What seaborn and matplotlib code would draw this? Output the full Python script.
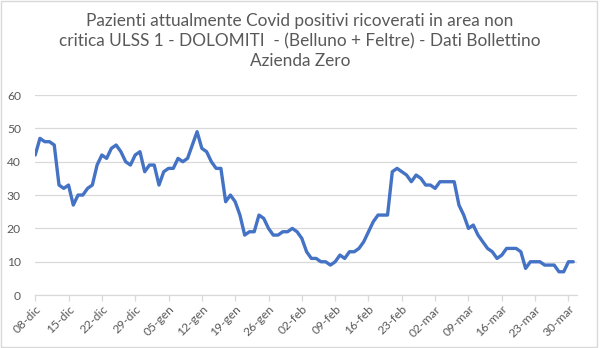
import matplotlib
matplotlib.use("Agg")
import matplotlib.pyplot as plt
import seaborn as sns
import pandas as pd
import numpy as np
from matplotlib.patches import Rectangle

# ---- data ----
start_date = "2020-12-08"
values = [42, 47, 46, 46, 45, 33, 32, 33, 27, 30, 30, 32, 33, 39, 42, 41, 44, 45, 43, 40,
          39, 42, 43, 37, 39, 39, 33, 37, 38, 38, 41, 40, 41, 45, 49,
          44, 43, 40, 38, 38, 28, 30,
          28, 24, 18, 19, 19, 24, 23, 20, 18, 18, 19, 19, 20, 19, 17, 13, 11, 11, 10, 10, 9,
          10, 12, 11, 13, 13, 14, 16, 19, 22, 24, 24, 24,
          37, 38, 37, 36, 34, 36, 35, 33, 33, 32,
          34, 34, 34, 34, 27, 24, 20, 21, 18, 16, 14, 13, 11, 12, 14, 14, 14, 13,
          8, 10, 10, 10, 9, 9, 9, 7, 7, 10, 10]
tick_labels = ["08-dic", "15-dic", "22-dic", "29-dic", "05-gen", "12-gen", "19-gen",
               "26-gen", "02-feb", "09-feb", "16-feb", "23-feb", "02-mar", "09-mar",
               "16-mar", "23-mar", "30-mar"]
y_ticks = [0, 10, 20, 30, 40, 50, 60]
title = ("Pazienti attualmente Covid positivi ricoverati in area non\n"
         "critica ULSS 1 - DOLOMITI  - (Belluno + Feltre) - Dati Bollettino\n"
         "Azienda Zero")

dates = pd.date_range(start_date, periods=len(values), freq="D")
df = pd.DataFrame({"data": dates, "pazienti": values})

sns.set_theme(style="white")
plt.rcParams["font.family"] = ["Lato", "DejaVu Sans"]

grey_text = "#595959"
fig = plt.figure(figsize=(6.0, 3.48), dpi=100)
ax = fig.add_axes([0.058, 0.152, 0.904, 0.575])

sns.lineplot(data=df, x="data", y="pazienti", ax=ax, color="#4472C4", linewidth=2.4)

tick_dates = pd.date_range(start_date, periods=len(tick_labels), freq="7D")
ax.set_xticks(tick_dates)
ax.set_xticklabels(tick_labels, rotation=45, ha="right", rotation_mode="anchor",
                   fontsize=8.7, color=grey_text)
ax.set_xlim(dates[0] - pd.Timedelta(hours=2), dates[-1] + pd.Timedelta(hours=20))
ax.set_ylim(0, 60)
ax.set_yticks(y_ticks)
ax.set_yticklabels([str(v) for v in y_ticks], fontsize=8.7, color=grey_text)
ax.set_xlabel("")
ax.set_ylabel("")

ax.grid(axis="y", color="#D9D9D9", linewidth=0.9)
ax.grid(axis="x", visible=False)
for side in ["top", "right", "left"]:
    ax.spines[side].set_visible(False)
ax.spines["bottom"].set_color("#D9D9D9")
ax.spines["bottom"].set_linewidth(0.9)
ax.tick_params(axis="x", which="major", direction="out", length=4, width=0.9,
               color="#D9D9D9", pad=2, bottom=True)
ax.tick_params(axis="y", length=0, pad=10)
ax.set_axisbelow(True)

fig.text(0.5, 0.962, title, ha="center", va="top", fontsize=12.4, color=grey_text,
         linespacing=1.3)

fig.patches.append(Rectangle((0.0015, 0.002), 0.993, 0.995, transform=fig.transFigure,
                             fill=False, edgecolor="#D9D9D9", linewidth=1))

fig.savefig("out.png", dpi=100)
